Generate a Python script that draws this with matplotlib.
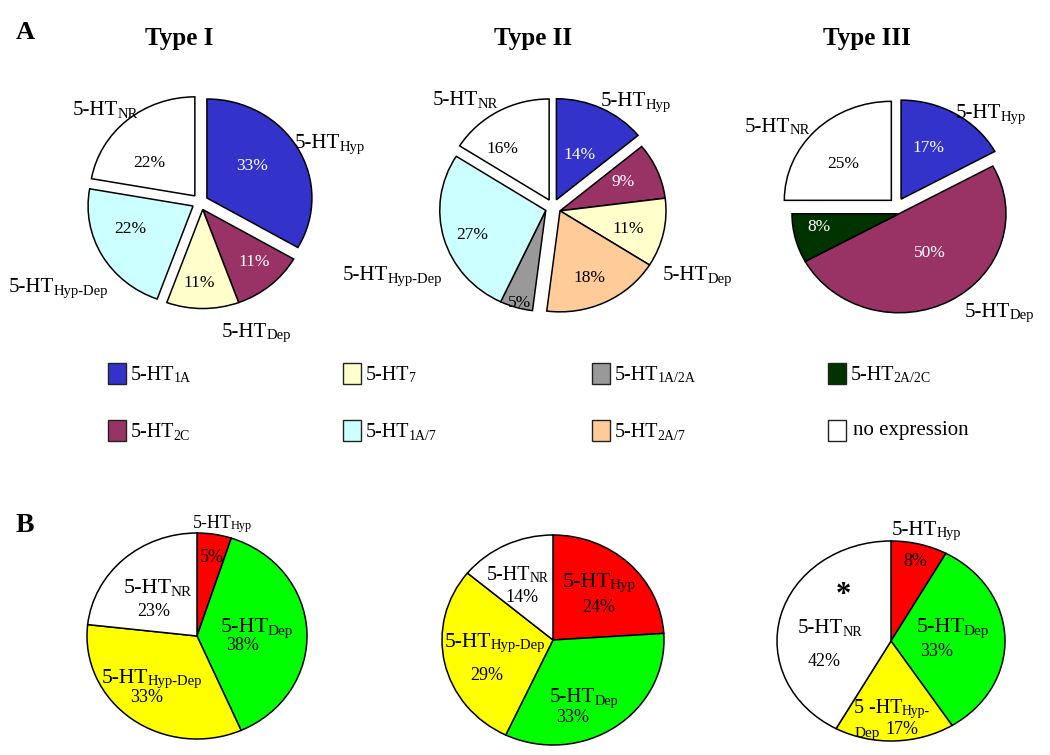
import numpy as np
import matplotlib.pyplot as plt
from matplotlib.patches import Rectangle

plt.rcParams['font.family'] = ['Liberation Serif', 'DejaVu Serif']

W, H = 1050, 755

BLUE, MAG, PYEL, PCYAN = '#3333cc', '#993366', '#ffffcc', '#ccffff'
GRAY, PEACH, DKGRN, WHITE = '#999999', '#ffcc99', '#003300', '#ffffff'
RED, GREEN, YELLOW = '#ff0000', '#00ff00', '#ffff00'

# panel A: receptor expression per firing type (clockwise from 12 o'clock)
type_names = ['Type I', 'Type II', 'Type III']
t1_vals = [33, 11, 11, 22, 22]
t1_cols = [BLUE, MAG, PYEL, PCYAN, WHITE]
t2_vals = [14, 9, 11, 18, 5, 27, 16]
t2_cols = [BLUE, MAG, PYEL, PEACH, GRAY, PCYAN, WHITE]
t3_vals = [17, 50, 8, 25]
t3_cols = [BLUE, MAG, DKGRN, WHITE]
# slices that belong to one response group (kept together)
t1_groups = [[0], [1, 2], [3], [4]]
t2_groups = [[0], [1, 2, 3], [4, 5], [6]]
t3_groups = [[0], [1, 2], [3]]
t1_names = ['Hyp', 'Dep', 'Hyp-Dep', 'NR']
t2_names = ['Hyp', 'Dep', 'Hyp-Dep', 'NR']
t3_names = ['Hyp', 'Dep', 'NR']

# legend
leg_subs = ['1A', '2C', '7', '1A/7', '1A/2A', '2A/7', '2A/2C', None]
leg_cols = [BLUE, MAG, PYEL, PCYAN, GRAY, PEACH, DKGRN, WHITE]

# panel B: response type (Hyp, Dep, Hyp-Dep, NR)
b_names = ['Hyp', 'Dep', 'Hyp-Dep', 'NR']
b_cols = [RED, GREEN, YELLOW, WHITE]
b1_vals = [5, 38, 33, 23]
b2_vals = [24, 33, 29, 14]
b3_vals = [8, 33, 17, 42]

fig = plt.figure(figsize=(W / 100, H / 100), dpi=100)
L = 1.3


def pie_at(cx, cy, rx, ry, vals, cols, groups=None, shift=0):
    ax = fig.add_axes([(cx - L * rx) / W, 1 - (cy + L * ry) / H,
                       2 * L * rx / W, 2 * L * ry / H])
    wedges, _ = ax.pie(vals, colors=cols, startangle=90, counterclock=False,
                       wedgeprops=dict(edgecolor='black', linewidth=1.1))
    if groups:
        for g in groups:
            lo = min(wedges[i].theta1 for i in g)
            hi = max(wedges[i].theta2 for i in g)
            a = np.deg2rad((lo + hi) / 2)
            for i in g:
                wedges[i].set_center((shift * np.cos(a) / rx, shift * np.sin(a) / ry))
    ax.set_xlim(-L, L)
    ax.set_ylim(-L, L)
    ax.set_aspect('auto')
    ax.axis('off')
    return ax


pie_at(200, 202, 105, 99, t1_vals, t1_cols, t1_groups, 8)
pie_at(553, 207, 106, 101, t2_vals, t2_cols, t2_groups, 8)
pie_at(897, 206, 107, 99, t3_vals, t3_cols, t3_groups, 8)
pie_at(197, 636, 110, 103, b1_vals, b_cols)
pie_at(553, 640, 111, 105, b2_vals, b_cols)
pie_at(891, 641, 114, 100, b3_vals, b_cols)

# overlay for all text, in pixel coordinates
cv = fig.add_axes([0, 0, 1, 1])
cv.set_xlim(0, W)
cv.set_ylim(H, 0)
cv.axis('off')
cv.patch.set_alpha(0)


def lab(x, y, main, sub=None, size=15, subsize=None, color='black'):
    t = cv.text(x, y, main, fontsize=size, ha='left', va='baseline', color=color)
    if sub:
        cv.annotate(sub, xy=(1, 0), xycoords=t, xytext=(-0.8, 1.8),
                    textcoords='offset points', fontsize=subsize or size * 0.68,
                    ha='left', va='baseline', color=color)
    return t


def pct(x, y, v, col, size=12.5):
    c = 'white' if col in (BLUE, MAG, DKGRN) else 'black'
    cv.text(x, y, f'{v}%', fontsize=size, ha='center', va='center', color=c)


# panel letters and titles
cv.text(16, 39, 'A', fontsize=19, fontweight='bold', va='baseline')
cv.text(16, 532, 'B', fontsize=20, fontweight='bold', va='baseline')
for name, x in zip(type_names, [179, 533, 867]):
    cv.text(x, 45, name, fontsize=18, fontweight='bold', ha='center', va='baseline')

# panel A labels
t1_lab_xy = [(295, 148), (222, 337), (9, 292), (73, 115)]
t2_lab_xy = [(601, 106), (663, 280), (343, 280), (433, 105)]
t3_lab_xy = [(956, 118), (965, 317), (745, 132)]
for names, xys in [(t1_names, t1_lab_xy), (t2_names, t2_lab_xy), (t3_names, t3_lab_xy)]:
    for n, (x, y) in zip(names, xys):
        lab(x, y, '5-HT', n, size=15, subsize=10.5)

t1_pct_xy = [(252, 166), (254, 262), (199, 283), (130, 229), (149, 163)]
t2_pct_xy = [(580, 155), (623, 182), (628, 229), (589, 278), (520, 303),
             (472, 235), (502, 149)]
t3_pct_xy = [(928, 148), (930, 253), (819, 227), (843, 164)]
for vals, cols, xys in [(t1_vals, t1_cols, t1_pct_xy), (t2_vals, t2_cols, t2_pct_xy),
                        (t3_vals, t3_cols, t3_pct_xy)]:
    for v, c, (x, y) in zip(vals, cols, xys):
        pct(x, y, v, c)

# legend
sq_x = [108, 343, 592, 828]
row_top = [363, 420]
for k, (sub, col) in enumerate(zip(leg_subs, leg_cols)):
    c, r = k // 2, k % 2
    cv.add_patch(Rectangle((sq_x[c], row_top[r]), 18, 21, fc=col, ec='#222222', lw=1))
    if sub:
        lab(sq_x[c] + 23, row_top[r] + 17, '5-HT', sub, size=14.5, subsize=10)
    else:
        lab(sq_x[c] + 25, row_top[r] + 15, 'no expression', size=15)

# panel B labels: (x, baseline, size) and percent centres
b1_lab = [(193, 528, 13), (221, 632, 16), (102, 683, 15.5), (124, 593, 16)]
b1_pct = [(212, 558), (243, 646), (147, 697), (154, 612)]
b2_lab = [(563, 587, 16), (550, 702, 15), (445, 647, 15.5), (487, 580, 14.5)]
b2_pct = [(599, 607), (573, 717), (487, 675), (522, 597)]
b3_lab = [(892, 535, 15), (917, 632, 16), (854, 713, 14.5), (798, 633, 15)]
b3_pct = [(915, 562), (937, 651), (902, 730), (824, 661)]

for vals, labs, pcts in [(b1_vals, b1_lab, b1_pct), (b2_vals, b2_lab, b2_pct),
                         (b3_vals, b3_lab, b3_pct)]:
    for i, (n, v) in enumerate(zip(b_names, vals)):
        x, y, s = labs[i]
        if vals is b3_vals and n == 'Hyp-Dep':
            lab(x, y, '5 -HT', 'Hyp-', size=s)
            cv.text(x + 1, y + 24, 'Dep', fontsize=11, va='baseline')
        else:
            lab(x, y, '5-HT', n, size=s)
        pct(pcts[i][0], pcts[i][1], v, b_cols[i], size=13)

cv.text(843, 595, '*', fontsize=22, fontweight='bold', ha='center', va='center')

fig.savefig('out.png', dpi=100)
